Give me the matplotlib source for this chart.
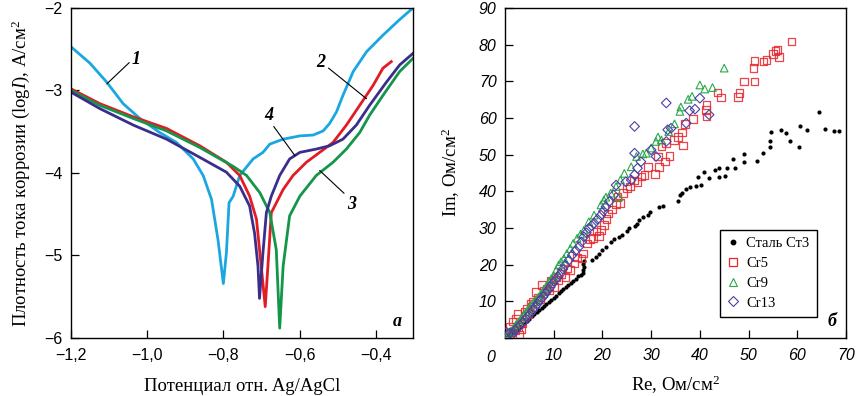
import matplotlib
matplotlib.use("Agg")
import matplotlib.pyplot as plt
from matplotlib.lines import Line2D

plt.rcParams['font.family'] = ['Liberation Sans', 'DejaVu Sans']
plt.rcParams['mathtext.fontset'] = 'custom'
plt.rcParams['mathtext.rm'] = 'Liberation Serif'
plt.rcParams['mathtext.it'] = 'Liberation Serif:italic'

SERIF = ['Liberation Serif', 'DejaVu Serif']

# ---- panel а: polarization curves (potential, log I) ----
c1_x = [-1.2, -1.15, -1.106, -1.063, -1.019, -0.967, -0.923, -0.879, -0.853, -0.831, -0.814,
        -0.80, -0.792, -0.785, -0.774, -0.757, -0.722, -0.696, -0.678, -0.643, -0.599, -0.564,
        -0.538, -0.521, -0.503, -0.486, -0.459, -0.424, -0.381, -0.337, -0.302]
c1_y = [-2.47, -2.67, -2.90, -3.16, -3.34, -3.51, -3.63, -3.83, -4.03, -4.32, -4.81,
        -5.34, -4.97, -4.36, -4.28, -4.03, -3.83, -3.75, -3.65, -3.59, -3.55, -3.54,
        -3.49, -3.40, -3.26, -3.06, -2.77, -2.53, -2.33, -2.14, -2.0]

c2_x = [-1.2, -1.124, -1.036, -0.949, -0.862, -0.792, -0.757, -0.731, -0.713, -0.704, -0.696,
        -0.69, -0.683, -0.674, -0.665, -0.643, -0.617, -0.582, -0.547, -0.512, -0.477, -0.442,
        -0.407, -0.381, -0.359]
c2_y = [-2.98, -3.16, -3.32, -3.46, -3.67, -3.87, -4.03, -4.28, -4.56, -4.97, -5.34,
        -5.62, -5.13, -4.48, -4.40, -4.20, -4.03, -3.87, -3.75, -3.63, -3.42, -3.18,
        -2.94, -2.73, -2.65]

c3_x = [-1.2, -1.124, -1.036, -0.949, -0.862, -0.774, -0.739, -0.704, -0.678, -0.661, -0.652,
        -0.643, -0.626, -0.599, -0.556, -0.512, -0.477, -0.442, -0.416, -0.381, -0.337, -0.302]
c3_y = [-3.0, -3.18, -3.34, -3.49, -3.69, -3.92, -4.03, -4.24, -4.48, -4.93, -5.88,
        -5.13, -4.52, -4.28, -4.03, -3.87, -3.71, -3.51, -3.30, -3.06, -2.77, -2.61]

c4_x = [-1.2, -1.124, -1.036, -0.949, -0.862, -0.792, -0.757, -0.731, -0.718, -0.709, -0.705,
        -0.696, -0.687, -0.674, -0.652, -0.626, -0.599, -0.556, -0.521, -0.486, -0.451, -0.416,
        -0.372, -0.337, -0.302]
c4_y = [-3.02, -3.22, -3.42, -3.59, -3.81, -3.99, -4.16, -4.40, -4.73, -5.13, -5.52,
        -4.97, -4.48, -4.28, -4.03, -3.83, -3.75, -3.71, -3.67, -3.59, -3.42, -3.18,
        -2.90, -2.69, -2.55]

curve_colors = ['#1aa7e1', '#e31b23', '#13954a', '#3a2e8c']

x_ticks_a = [-1.2, -1.0, -0.8, -0.6, -0.4]
x_labels_a = ['\u22121,2', '\u22121,0', '\u22120,8', '\u22120,6', '\u22120,4']
y_ticks_a = [-6, -5, -4, -3, -2]
y_labels_a = ['\u22126', '\u22125', '\u22124', '\u22123', '\u22122']

# ---- panel б: impedance (Re, Im) ----
st3_re = [1.0, 1.5, 2.0, 2.5, 3.0, 3.5, 4.0, 4.5, 5.0, 5.5, 6.0, 6.5, 7.0, 7.5, 8.0, 8.5, 9.0,
          9.5, 10.0, 10.5, 11.0, 11.5, 12.0, 12.5, 13.0, 13.5, 14.0, 14.5, 15.0, 15.5, 16.0,
          16.1, 16.2, 16.0, 16.3, 17.9, 18.6, 19.3, 20.0, 20.7, 21.7, 22.3, 23.4, 24.1, 25.0,
          25.5, 26.6, 27.1, 27.6, 28.3, 29.3, 29.7, 31.7, 32.4, 35.5, 35.9, 36.3, 37.2, 37.9,
          39.3, 40.2, 39.7, 40.9, 41.9, 43.1, 44.0, 44.0, 45.2, 45.5, 46.9, 47.2, 49.0, 49.0,
          51.7, 53.0, 54.3, 54.5, 54.7, 56.6, 57.7, 58.5, 60.3, 60.5, 62.0, 64.5, 65.7, 67.6, 68.5]
st3_im = [0.8, 1.2, 1.8, 2.3, 2.9, 3.4, 4.0, 4.6, 5.2, 5.9, 6.5, 7.0, 7.6, 8.1, 8.7, 9.3, 9.8,
          10.4, 11.0, 11.5, 12.2, 12.8, 13.3, 13.9, 14.5, 15.0, 15.6, 16.1, 16.8, 17.3, 17.8,
          18.6, 19.5, 20.3, 21.0, 21.2, 22.1, 23.0, 24.0, 24.7, 26.2, 26.9, 27.6, 28.1, 29.2,
          29.9, 30.5, 31.0, 32.3, 33.1, 33.5, 34.4, 35.8, 36.0, 37.4, 39.0, 39.6, 40.5, 41.3,
          41.5, 41.7, 44.0, 45.2, 43.6, 45.8, 44.0, 46.3, 44.2, 46.3, 48.7, 46.3, 50.2, 48.1,
          48.4, 50.4, 52.2, 53.6, 56.3, 56.8, 56.0, 53.6, 52.0, 57.7, 56.6, 61.7, 57.0, 56.5, 56.5]

cr5_re = [0.8, 1.2, 1.0, 1.5, 2.0, 2.3, 2.6, 2.8, 3.0, 3.3, 3.6, 4.0, 4.2, 4.5, 4.8, 5.2, 5.5,
          5.8, 6.4, 6.8, 7.2, 7.6, 8.0, 8.5, 9.0, 9.5, 10.1, 10.5, 11.0, 11.5, 12.4, 12.8, 13.4,
          14.3, 14.8, 15.7, 16.0, 16.8, 17.5, 18.1, 18.8, 19.3, 19.7, 20.3, 20.8, 21.2, 22.0,
          22.8, 23.1, 23.6, 24.2, 25.0, 25.7, 26.5, 27.2, 28.0, 28.6, 29.3, 30.8, 31.4, 31.6,
          32.1, 32.9, 33.1, 33.8, 34.7, 35.5, 36.3, 36.6, 36.9, 38.6, 41.2, 41.4, 41.4, 43.6,
          44.3, 47.8, 48.1, 49.0, 51.0, 51.2, 51.2, 53.1, 53.7, 55.0, 55.5, 55.9, 56.3, 58.8]
cr5_im = [0.6, 1.5, 3.0, 4.5, 2.0, 5.2, 6.5, 3.0, 1.0, 2.5, 4.0, 7.2, 6.0, 8.0, 6.5, 9.4, 8.5,
          10.0, 12.6, 11.0, 10.5, 14.4, 12.8, 13.5, 13.0, 15.5, 13.9, 16.5, 15.8, 17.5, 16.7, 19.0,
          18.5, 20.3, 22.0, 21.7, 23.0, 25.8, 27.0, 27.2, 29.0, 27.8, 29.4, 30.8, 32.5, 34.0, 35.0,
          36.5, 38.5, 36.9, 39.5, 40.8, 41.3, 43.0, 42.6, 44.0, 44.5, 46.7, 44.7, 49.5, 46.7,
          52.2, 48.1, 53.1, 49.7, 54.0, 54.9, 56.0, 52.5, 58.4, 59.7, 62.2, 60.4, 63.6, 67.0,
          65.6, 65.7, 66.8, 70.0, 73.6, 70.0, 75.6, 75.4, 75.9, 77.5, 78.2, 78.6, 76.6, 80.9]

cr9_re = [0.3, 0.7, 1.2, 1.7, 2.2, 2.8, 3.3, 3.8, 4.3, 4.8, 5.3, 5.9, 6.4, 6.9, 7.4, 7.9, 8.5,
          9.0, 9.5, 10.0, 10.5, 11.0, 11.5, 12.1, 12.7, 13.4, 14.0, 14.8, 15.5, 16.2, 17.2, 18.3,
          19.7, 20.3, 20.7, 21.7, 22.8, 23.4, 23.7, 24.5, 25.9, 27.0, 28.3, 29.0, 30.0, 31.0,
          31.4, 32.1, 33.6, 34.8, 35.9, 36.1, 37.6, 38.4, 40.0, 41.0, 42.6, 45.0]
cr9_im = [0.5, 1.2, 1.8, 2.6, 3.5, 4.4, 5.3, 6.2, 7.1, 8.0, 8.9, 9.8, 10.5, 11.2, 12.1, 13.0, 14.2,
          15.3, 16.2, 17.1, 18.5, 19.9, 20.8, 21.7, 23.0, 24.4, 25.8, 27.2, 28.3, 29.4, 31.7, 33.5,
          36.3, 37.6, 38.4, 39.5, 41.3, 38.5, 43.1, 44.9, 46.7, 49.5, 50.2, 50.4, 51.8, 53.6,
          54.8, 54.0, 56.3, 58.4, 61.8, 63.0, 65.1, 65.9, 69.0, 67.9, 68.3, 73.6]

cr13_re = [0.3, 1.0, 1.5, 2.1, 2.6, 3.1, 3.6, 4.1, 4.6, 5.2, 5.7, 6.2, 6.7, 7.2, 7.8, 8.3, 8.8,
           9.3, 9.8, 10.3, 10.9, 11.4, 11.9, 12.4, 13.1, 13.8, 14.5, 15.2, 15.7, 16.2, 16.7, 17.2,
           17.8, 18.3, 19.0, 19.7, 20.2, 20.7, 21.4, 22.3, 22.8, 24.8, 25.9, 26.6, 27.2, 27.9,
           30.0, 31.0, 33.1, 33.4, 34.1, 37.2, 37.9, 39.0, 41.9, 40.0, 33.1, 26.6, 26.6]
cr13_im = [1.6, 1.4, 1.0, 2.1, 2.8, 3.5, 4.2, 4.8, 5.8, 6.7, 7.6, 8.5, 9.4, 10.3, 11.2, 12.1, 13.0,
           13.9, 14.9, 15.8, 16.7, 17.6, 18.8, 19.9, 21.2, 22.6, 23.8, 24.9, 26.2, 27.6, 28.7, 29.9,
           30.6, 31.3, 32.4, 33.5, 34.6, 35.8, 37.2, 39.0, 41.7, 42.6, 43.1, 44.5, 46.3, 48.1,
           51.3, 49.5, 53.6, 56.8, 57.2, 58.6, 62.0, 62.4, 60.9, 65.4, 64.1, 57.7, 50.4]

series_names = ['Сталь Ст3', 'Cr5', 'Cr9', 'Cr13']

fig = plt.figure(figsize=(8.58, 3.96), dpi=100)
ax1 = fig.add_axes([71 / 858, 58 / 396, 342 / 858, 330 / 396])
ax2 = fig.add_axes([505 / 858, 58 / 396, 341 / 858, 330 / 396])

for ax in (ax1, ax2):
    for sp in ax.spines.values():
        sp.set_linewidth(1.0)
    ax.tick_params(direction='in', length=5.5, width=0.9)

# panel а
for xs, ys, col in zip([c1_x, c2_x, c3_x, c4_x], [c1_y, c2_y, c3_y, c4_y], curve_colors):
    ax1.plot(xs, ys, color=col, lw=2.0)

ax1.set_xlim(-1.2, -0.302)
ax1.set_ylim(-6, -2)
ax1.set_xticks(x_ticks_a, x_labels_a, fontsize=11.5)
ax1.set_yticks(y_ticks_a, y_labels_a, fontsize=11.5)
ax1.tick_params(axis='x', pad=7)
ax1.tick_params(axis='y', pad=6)
ax1.set_xlabel('Потенциал отн. Ag/AgCl', family=SERIF, fontsize=13.5, labelpad=11)
ax1.set_ylabel('Плотность тока коррозии (log$\\mathit{I}$), А/см$^2$', family=SERIF,
               fontsize=13.5, labelpad=9)

lbl = dict(family=SERIF, fontsize=13, fontweight='bold', style='italic')
ann = dict(arrowstyle='-', color='black', lw=0.8, shrinkA=0, shrinkB=0)
ax1.annotate('1', xy=(-1.106, -2.92), xytext=(-1.028, -2.63), ha='center', va='center',
             arrowprops=dict(ann, relpos=(0.0, 0.5)), **lbl)
ax1.annotate('2', xy=(-0.424, -3.10), xytext=(-0.543, -2.66), ha='center', va='center',
             arrowprops=dict(ann, relpos=(1.0, 0.3)), **lbl)
ax1.annotate('4', xy=(-0.612, -3.79), xytext=(-0.68, -3.30), ha='center', va='center',
             arrowprops=dict(ann, relpos=(0.8, 0.0)), **lbl)
ax1.annotate('3', xy=(-0.547, -3.97), xytext=(-0.464, -4.38), ha='center', va='center',
             arrowprops=dict(ann, relpos=(0.0, 1.0)), **lbl)
ax1.text(0.955, 0.05, 'а', transform=ax1.transAxes, ha='center', va='center', **lbl)

# panel б
ax2.scatter(st3_re, st3_im, s=9, color='black', linewidths=0, zorder=2)
ax2.scatter(cr5_re, cr5_im, s=30, marker='s', facecolors='none', edgecolors='#e8242c',
            linewidths=0.9, alpha=0.85, zorder=3)
ax2.scatter(cr9_re, cr9_im, s=30, marker='^', facecolors='none', edgecolors='#2aa84a',
            linewidths=0.8, zorder=4)
ax2.scatter(cr13_re, cr13_im, s=24, marker='D', facecolors='none', edgecolors='#4b40a3',
            linewidths=0.8, zorder=5)

ax2.set_xlim(0, 70)
ax2.set_ylim(0, 90)
ax2.set_xticks([0, 10, 20, 30, 40, 50, 60, 70], ['', '10', '20', '30', '40', '50', '60', '70'])
ax2.set_yticks([0, 10, 20, 30, 40, 50, 60, 70, 80, 90],
               ['', '10', '20', '30', '40', '50', '60', '70', '80', '90'])
for t in ax2.get_xticklabels() + ax2.get_yticklabels():
    t.set_fontsize(11.5)
    t.set_fontstyle('italic')
ax2.tick_params(axis='x', pad=7)
ax2.tick_params(axis='y', pad=6)
ax2.text(-0.041, -0.035, '0', transform=ax2.transAxes, ha='center', va='top',
         fontsize=11.5, style='italic')
ax2.set_xlabel('Re, Ом/см$^2$', family=SERIF, fontsize=13.5, labelpad=8)
ax2.set_ylabel('Im, Ом/см$^2$', family=SERIF, fontsize=13.5, labelpad=12)
ax2.text(0.958, 0.05, 'б', transform=ax2.transAxes, ha='center', va='center', **lbl)

handles = [
    Line2D([], [], ls='none', marker='o', ms=3.2, color='black'),
    Line2D([], [], ls='none', marker='s', ms=5.5, mfc='none', mec='#e8242c', mew=0.9),
    Line2D([], [], ls='none', marker='^', ms=5.5, mfc='none', mec='#2aa84a', mew=0.8),
    Line2D([], [], ls='none', marker='D', ms=4.6, mfc='none', mec='#4b40a3', mew=0.8),
]
leg = ax2.legend(handles, series_names, loc='lower left', bbox_to_anchor=(0.631, 0.064),
                 frameon=True, fancybox=False, edgecolor='black', framealpha=1,
                 prop={'family': SERIF, 'size': 10.5}, handlelength=0.8, handletextpad=0.5,
                 borderpad=0.5, labelspacing=0.45, borderaxespad=0)
leg.get_frame().set_linewidth(1.0)

fig.savefig('out.png', dpi=100)
